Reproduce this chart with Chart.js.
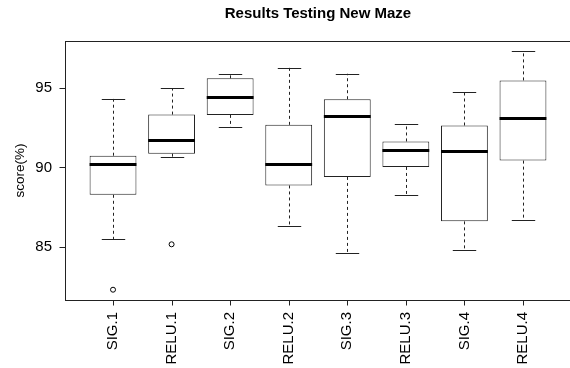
<!DOCTYPE html>
<html>
<head>
<meta charset="utf-8">
<script src="https://cdn.jsdelivr.net/npm/chart.js@4/dist/chart.umd.min.js"></script>
<style>
  html, body { margin: 0; padding: 0; background: #fff; overflow: hidden; }
  canvas { display: block; }
</style>
</head>
<body>
<canvas id="boxChart" width="580" height="368"></canvas>
<script>
// values
var categories = ['SIG.1', 'RELU.1', 'SIG.2', 'RELU.2', 'SIG.3', 'RELU.3', 'SIG.4', 'RELU.4'];
var lowerWhisker = [85.46, 90.68, 92.55, 86.28, 84.62, 88.25, 84.81, 86.65];
var q1 = [88.27, 90.87, 93.32, 88.86, 89.40, 90.03, 86.59, 90.43];
var median = [90.22, 91.73, 94.47, 90.22, 93.26, 91.10, 91.04, 93.15];
var q3 = [90.74, 93.34, 95.63, 92.69, 94.31, 91.64, 92.65, 95.50];
var upperWhisker = [94.33, 95.00, 95.88, 96.30, 95.92, 92.77, 94.79, 97.36];
var outlierCat = [1, 2];
var outlierVal = [82.27, 85.14];
var yTicks = [85, 90, 95];

var fontFam = 'Liberation Sans, Arial, Helvetica, sans-serif';

var boxPlugin = {
  id: 'boxParts',
  beforeDatasetsDraw: function(chart) {
    var ctx = chart.ctx, xs = chart.scales.x, ys = chart.scales.y;
    var step = xs.getPixelForValue(2) - xs.getPixelForValue(1);
    var cap = step * 0.8 * 0.25;
    ctx.save();
    ctx.strokeStyle = '#222';
    ctx.lineWidth = 1;
    for (var i = 0; i < categories.length; i++) {
      var x = Math.round(xs.getPixelForValue(i + 1)) + 0.5;
      ctx.setLineDash([3, 3]);
      ctx.beginPath();
      ctx.moveTo(x, ys.getPixelForValue(q3[i]));
      ctx.lineTo(x, ys.getPixelForValue(upperWhisker[i]));
      ctx.moveTo(x, ys.getPixelForValue(q1[i]));
      ctx.lineTo(x, ys.getPixelForValue(lowerWhisker[i]));
      ctx.stroke();
      ctx.setLineDash([]);
      ctx.beginPath();
      var yu = Math.round(ys.getPixelForValue(upperWhisker[i])) + 0.5;
      var yl = Math.round(ys.getPixelForValue(lowerWhisker[i])) + 0.5;
      ctx.moveTo(x - cap, yu); ctx.lineTo(x + cap, yu);
      ctx.moveTo(x - cap, yl); ctx.lineTo(x + cap, yl);
      ctx.stroke();
    }
    ctx.restore();
  },
  afterDatasetsDraw: function(chart) {
    var ctx = chart.ctx, xs = chart.scales.x, ys = chart.scales.y;
    var step = xs.getPixelForValue(2) - xs.getPixelForValue(1);
    var half = step * 0.8 / 2;
    var a = chart.chartArea;
    ctx.save();
    ctx.strokeStyle = '#000';
    ctx.lineWidth = 3;
    for (var i = 0; i < categories.length; i++) {
      var x = xs.getPixelForValue(i + 1);
      var y = Math.round(ys.getPixelForValue(median[i])) + 0.5;
      ctx.beginPath();
      ctx.moveTo(x - half, y); ctx.lineTo(x + half, y);
      ctx.stroke();
    }
    // frame around plot and tick marks
    ctx.lineWidth = 1;
    ctx.strokeStyle = '#222';
    var L = Math.round(a.left) + 0.5, B = Math.round(a.bottom) + 0.5;
    ctx.strokeRect(L, Math.round(a.top) + 0.5, a.right - a.left, a.bottom - a.top);
    ctx.beginPath();
    for (var j = 0; j < categories.length; j++) {
      var tx = Math.round(xs.getPixelForValue(j + 1)) + 0.5;
      ctx.moveTo(tx, B); ctx.lineTo(tx, B + 5);
    }
    for (var k = 0; k < yTicks.length; k++) {
      var ty = Math.round(ys.getPixelForValue(yTicks[k])) + 0.5;
      ctx.moveTo(L - 6, ty); ctx.lineTo(L, ty);
    }
    ctx.stroke();
    // title
    ctx.fillStyle = '#000';
    ctx.font = 'bold 15px ' + fontFam;
    ctx.textAlign = 'center';
    ctx.textBaseline = 'middle';
    ctx.fillText('Results Testing New Maze', (a.left + a.right) / 2, 14);
    ctx.restore();
  }
};

var ctx = document.getElementById('boxChart').getContext('2d');

var boxChart = new Chart(ctx, {
  type: 'bar',
  data: {
    datasets: [{
      type: 'bar',
      data: categories.map(function(c, i) { return {x: i + 1, y: [q1[i], q3[i]]}; }),
      backgroundColor: '#fff',
      borderColor: '#222',
      borderWidth: 1,
      borderSkipped: false,
      barPercentage: 0.8,
      categoryPercentage: 1
    }, {
      type: 'scatter',
      data: outlierCat.map(function(c, i) { return {x: c, y: outlierVal[i]}; }),
      pointStyle: 'circle',
      pointRadius: 2.5,
      pointBorderWidth: 1,
      pointBorderColor: '#000',
      pointBackgroundColor: '#fff'
    }]
  },
  options: {
    responsive: false,
    animation: false,
    devicePixelRatio: 1,
    layout: { padding: { top: 41, right: 9, left: 0, bottom: 0 } },
    plugins: { legend: { display: false }, tooltip: { enabled: false }, title: { display: false } },
    scales: {
      x: {
        type: 'linear',
        offset: false,
        min: 0.18,
        max: 8.82,
        afterBuildTicks: function(scale) {
          scale.ticks = categories.map(function(c, i) { return {value: i + 1}; });
        },
        afterFit: function(scale) { scale.height = 68; },
        grid: { display: false },
        border: { display: false },
        ticks: {
          autoSkip: false,
          minRotation: 90,
          maxRotation: 90,
          padding: 4,
          color: '#000',
          font: { family: fontFam, size: 15 },
          callback: function(v) { return categories[v - 1]; }
        }
      },
      y: {
        min: 81.62,
        max: 97.99,
        afterBuildTicks: function(scale) {
          scale.ticks = yTicks.map(function(v) { return {value: v}; });
        },
        afterFit: function(scale) { scale.width = 65; },
        grid: { display: false },
        border: { display: false },
        ticks: { padding: 5, color: '#000', font: { family: fontFam, size: 15 } },
        title: {
          display: true,
          text: 'score(%)',
          color: '#000',
          padding: { top: 12, bottom: 0 },
          font: { family: fontFam, size: 13.5 }
        }
      }
    }
  },
  plugins: [boxPlugin]
});
</script>
</body>
</html>
